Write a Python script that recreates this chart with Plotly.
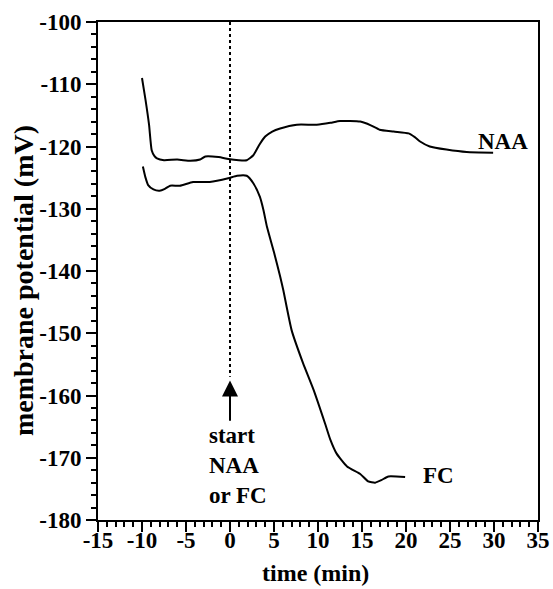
import plotly.graph_objects as go

# NAA trace (time in min, membrane potential in mV)
naa_time = [-10.0, -9.6, -9.2, -8.9, -8.6, -8.3, -7.5, -6.0, -4.5, -3.4, -2.8, -1.3, -0.2, 1.0, 1.9,
            2.65, 3.3, 4.0, 4.8, 5.7, 7.6, 9.85, 11.4, 12.5, 14.8, 16.0, 17.0, 18.6, 20.3, 21.0, 21.6,
            22.7, 24.6, 26.9, 29.9]
naa_mv = [-109.0, -112.5, -116.5, -120.6, -121.5, -121.9, -122.2, -122.1, -122.3, -122.1, -121.6,
          -121.7, -122.0, -122.2, -122.2, -121.4, -119.8, -118.4, -117.6, -117.1, -116.5, -116.5,
          -116.2, -115.9, -116.0, -116.6, -117.3, -117.6, -117.9, -118.5, -119.2, -120.0, -120.5,
          -120.9, -121.0]

# FC trace
fc_time = [-9.9, -9.6, -9.3, -8.7, -8.0, -7.4, -6.8, -5.7, -4.2, -2.3, -0.2, 0.8, 1.9, 2.65, 3.4,
           3.8, 4.2, 5.0, 5.7, 6.06, 7.0, 8.3, 9.5, 10.8, 11.4, 12.1, 13.3, 14.8, 15.7, 16.5, 17.2,
           18.0, 19.9]
fc_mv = [-123.2, -125.0, -126.2, -126.9, -127.1, -126.8, -126.3, -126.3, -125.7, -125.7, -125.1,
         -124.7, -124.7, -125.9, -128.1, -130.2, -132.9, -137.0, -140.9, -143.1, -149.5, -154.8,
         -159.1, -164.5, -167.1, -169.3, -171.4, -172.6, -173.8, -174.0, -173.6, -173.0, -173.1]

x_ticks = [-15, -10, -5, 0, 5, 10, 15, 20, 25, 30, 35]
y_ticks = [-100, -110, -120, -130, -140, -150, -160, -170, -180]

FONT = "Liberation Serif"
TICK = 23

fig = go.Figure()
fig.add_trace(go.Scatter(x=naa_time, y=naa_mv, mode="lines",
                         line=dict(color="black", width=2, shape="spline", smoothing=0.5),
                         showlegend=False))
fig.add_trace(go.Scatter(x=fc_time, y=fc_mv, mode="lines",
                         line=dict(color="black", width=2, shape="spline", smoothing=0.5),
                         showlegend=False))

# dotted start line
fig.add_shape(type="line", x0=0, x1=0, y0=-100, y1=-157.0, xref="x", yref="y",
              line=dict(color="black", width=2, dash="dot"))

# arrow
fig.add_annotation(x=0, y=-157.6, ax=0, ay=-164.3, xref="x", yref="y", axref="x", ayref="y",
                   text="", showarrow=True, arrowhead=2, arrowsize=1.6, arrowwidth=2,
                   arrowcolor="black")

fig.add_annotation(x=-2.6, y=-171.3, xref="x", yref="y", text="<b>start<br>NAA<br>or FC</b>",
                   showarrow=False, xanchor="left", yanchor="middle", align="left",
                   font=dict(family=FONT, size=TICK, color="black"))
fig.add_annotation(x=27.9, y=-119.2, xref="x", yref="y", text="<b>NAA</b>",
                   showarrow=False, xanchor="left", yanchor="middle",
                   font=dict(family=FONT, size=TICK, color="black"))
fig.add_annotation(x=21.7, y=-172.9, xref="x", yref="y", text="<b>FC</b>",
                   showarrow=False, xanchor="left", yanchor="middle",
                   font=dict(family=FONT, size=TICK, color="black"))

# axis titles
fig.add_annotation(x=0.495, y=-0.107, xref="paper", yref="paper", text="<b>time (min)</b>",
                   showarrow=False, xanchor="center", yanchor="middle",
                   font=dict(family=FONT, size=24, color="black"))
fig.add_annotation(x=-0.168, y=0.48, xref="paper", yref="paper",
                   text="<b>membrane potential (mV)</b>", textangle=-90,
                   showarrow=False, xanchor="center", yanchor="middle",
                   font=dict(family=FONT, size=28, color="black"))

fig.update_layout(
    width=553, height=589,
    margin=dict(l=98, r=15, t=22, b=69),
    plot_bgcolor="white", paper_bgcolor="white",
    font=dict(family=FONT, size=TICK, color="black"),
)
fig.update_xaxes(range=[-15, 35], tickvals=x_ticks, ticktext=[f"<b>{v}</b>" for v in x_ticks],
                 showgrid=False, zeroline=False, showline=True, linecolor="black", linewidth=2,
                 mirror=True, ticks="outside", ticklen=10, tickwidth=2, tickcolor="black",
                 ticklabelstandoff=-12,
                 minor=dict(dtick=1, tick0=0, ticks="outside", ticklen=5, tickwidth=1.5, tickcolor="black"),
                 automargin=False, tickfont=dict(family=FONT, size=TICK))
fig.update_yaxes(range=[-180, -100], tickvals=y_ticks, ticktext=[f"<b>{v}</b>" for v in y_ticks],
                 showgrid=False, zeroline=False, showline=True, linecolor="black", linewidth=2,
                 mirror=True, ticks="outside", ticklen=10, tickwidth=2, tickcolor="black",
                 minor=dict(dtick=2, tick0=0, ticks="outside", ticklen=5, tickwidth=1.5, tickcolor="black"),
                 automargin=False, tickfont=dict(family=FONT, size=TICK))

fig.write_html("out.html", config={"displayModeBar": False},
               post_script="document.body.style.margin='0px';")
